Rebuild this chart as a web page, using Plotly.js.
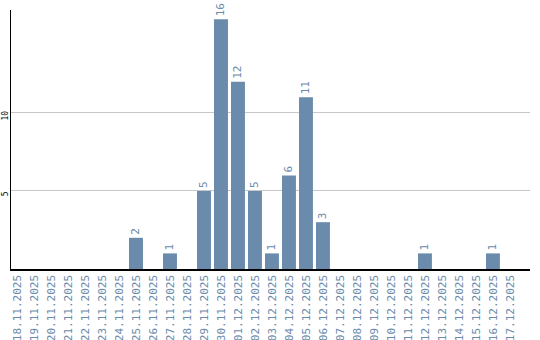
<!DOCTYPE html>
<html><head><meta charset="utf-8">
<script src="https://cdn.plot.ly/plotly-3.0.1.min.js"></script>
<style>body{margin:0;padding:0;background:#fff}#c{width:540px;height:340px}</style>
</head><body><div id="c"></div>
<script>
const dates = ["18.11.2025","19.11.2025","20.11.2025","21.11.2025","22.11.2025","23.11.2025","24.11.2025","25.11.2025","26.11.2025","27.11.2025","28.11.2025","29.11.2025","30.11.2025","01.12.2025","02.12.2025","03.12.2025","04.12.2025","05.12.2025","06.12.2025","07.12.2025","08.12.2025","09.12.2025","10.12.2025","11.12.2025","12.12.2025","13.12.2025","14.12.2025","15.12.2025","16.12.2025","17.12.2025"];
const counts = [0,0,0,0,0,0,0,2,0,1,0,5,16,12,5,1,6,11,3,0,0,0,0,0,1,0,0,0,1,0];
const yTicks = [5,10];
const col = '#6a8bab';
Plotly.newPlot('c', [{
  type:'bar', x:dates, y:counts,
  marker:{color:col},
  text:counts.map(v=>v>0?String(v):''),
  textposition:'outside', textangle:-90,
  textfont:{family:'DejaVu Sans Mono', size:11, color:col},
  cliponaxis:false, hoverinfo:'none'
}], {
  width:540, height:340,
  margin:{l:11, r:10, t:10, b:71, pad:0},
  paper_bgcolor:'#fff', plot_bgcolor:'#fff',
  bargap:0.18, showlegend:false,
  xaxis:{type:'category', range:[-0.353, 30.18], showline:true, linecolor:'#000', linewidth:1.5,
    tickangle:-90, tickfont:{family:'DejaVu Sans Mono', size:11, color:col}, ticks:'', showgrid:false, fixedrange:true},
  yaxis:{range:[0,16.6], tickvals:yTicks, ticktext:yTicks.map(String), showline:true, linecolor:'#000', linewidth:1.5,
    showgrid:true, gridcolor:'#c8c8c8', gridwidth:1, zeroline:false, ticks:'', tickangle:-90,
    tickfont:{family:'DejaVu Sans Mono', size:8, color:'#000'}, ticklabelstandoff:-2, ticklabelshift:4}
}, {displayModeBar:false, staticPlot:true});
</script></body></html>
